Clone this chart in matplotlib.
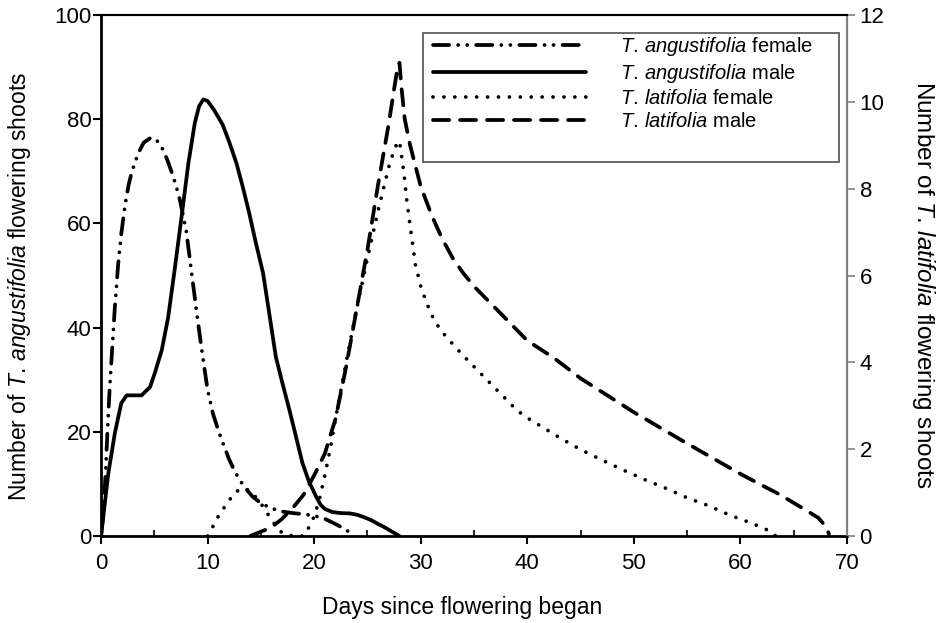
"""Flowering phenology of T. angustifolia and T. latifolia (two y axes)."""
import matplotlib
matplotlib.use("Agg")
import matplotlib.pyplot as plt
from matplotlib.patches import Rectangle
from matplotlib.ticker import MultipleLocator

plt.rcParams["font.family"] = ["Liberation Sans", "DejaVu Sans"]
plt.rcParams["mathtext.fontset"] = "custom"
plt.rcParams["mathtext.rm"] = "Liberation Sans"
plt.rcParams["mathtext.it"] = "Liberation Sans:italic"

# T. angustifolia (left axis)
ang_f_day = [0, 0.2, 0.4, 0.6, 0.8, 1.0, 1.3, 1.6, 1.9, 2.25, 2.6, 2.9, 3.5, 4.0, 4.7, 5.2,
             5.7, 6.2, 6.6, 7.0, 7.4, 8.0, 8.5, 9.0, 9.5, 10.0, 10.5, 11.0, 11.5, 12.0,
             12.5, 13.0, 13.5, 14.2, 15.0, 16.0, 17.0, 18.0, 19.0, 20.0, 21.0, 22.0, 23.0,
             23.7]
ang_f = [0, 4, 11, 20, 28, 34.5, 44, 52, 58, 63.5, 67.5, 70, 73.5, 75.5, 76.5, 76,
         74.6, 72.3, 70, 67.5, 64.5, 58.5, 50.5, 42.5, 35, 28, 23.5, 20.3, 17.5, 14.8,
         12.6, 10.8, 9.3, 7.6, 6.3, 5.3, 4.7, 4.4, 4.2, 3.9, 3.3, 2.3, 1.2,
         0]

ang_m_day = [0, 0.68, 1.3, 1.9, 2.4, 3.0, 3.8, 4.6, 5.05, 5.7, 6.3, 6.9, 7.55, 8.2, 8.8,
             9.2, 9.6, 10.0, 10.6, 11.4, 12.0, 12.7, 13.3, 13.9, 14.5, 15.2, 15.8, 16.4,
             17.0, 17.7, 18.3, 18.9, 19.5, 20.2, 20.6, 21.0, 21.7, 22.5, 23.3, 24.0, 24.7,
             25.4, 26.0, 26.5, 27.0, 27.5, 28.0]
ang_m = [0, 12, 19.8, 25.5, 27, 27, 27, 28.6, 31.3, 35.7, 42, 51, 61.2, 71.6, 79.3,
         82.5, 83.8, 83.5, 81.8, 79, 75.8, 71.6, 67, 62, 56.5, 50.5, 42.5, 34.4,
         29.5, 24, 19, 14, 10.5, 7.5, 6, 5.2, 4.6, 4.4, 4.35, 4.1, 3.6,
         3.0, 2.3, 1.8, 1.2, 0.6, 0]

# T. latifolia (right axis)
lat_f_day = [10.0, 10.5, 11.1, 11.8, 12.5, 13.2, 14.0, 15.0, 15.8, 16.5, 17.0, 18.0, 19.0,
             19.5, 20.0, 20.5, 21.0, 21.5, 22.0, 23.0, 24.0, 25.0, 26.0, 26.5, 27.0, 27.5,
             27.8, 28.0, 28.4, 28.7, 29.0, 29.5, 30.0, 30.5, 31.0, 31.5, 32.0, 33.0, 34.0,
             35.0, 36.0, 37.0, 38.0, 39.0, 40.0, 41.0, 43.0, 45.0, 47.0, 49.0, 51.0, 53.0,
             55.0, 57.0, 59.0, 61.0, 62.9, 63.3]
lat_f = [0, 0.22, 0.5, 0.74, 0.99, 1.1, 1.05, 0.75, 0.45, 0.2, 0.07, 0, 0,
         0.2, 0.45, 0.85, 1.4, 2.0, 2.7, 4.0, 5.25, 6.4, 7.5, 8.0, 8.5, 8.9,
         9.05, 9.1, 8.4, 7.7, 7.15, 6.25, 5.75, 5.4, 5.1, 4.88, 4.7, 4.42, 4.15,
         3.9, 3.65, 3.4, 3.15, 2.9, 2.72, 2.57, 2.27, 1.99, 1.75, 1.52, 1.3, 1.1,
         0.88, 0.7, 0.48, 0.3, 0.1, 0]

lat_m_day = [14.0, 15.0, 16.0, 17.0, 18.0, 19.0, 20.0, 21.0, 22.0, 23.0, 24.0, 25.0, 26.0,
             26.5, 27.0, 27.5, 27.8, 28.0, 28.2, 28.5, 29.0, 30.0, 31.0, 32.0, 33.0, 34.0,
             35.0, 36.0, 37.0, 38.0, 39.0, 40.0, 42.5, 45.0, 47.5, 50.0, 52.5, 55.0, 57.5,
             60.0, 62.0, 63.5, 65.7, 67.3, 68.0, 68.3]
lat_m = [0, 0.1, 0.2, 0.4, 0.65, 0.95, 1.4, 1.9, 2.7, 3.9, 5.25, 6.6, 8.1,
         8.8, 9.5, 10.3, 10.75, 10.9, 10.3, 9.6, 9.0, 8.05, 7.4, 6.85, 6.4, 6.05,
         5.75, 5.5, 5.25, 5.0, 4.75, 4.5, 4.1, 3.63, 3.24, 2.85, 2.49, 2.13, 1.78,
         1.43, 1.17, 0.98, 0.66, 0.42, 0.22, 0.05]

labels = [r"$\it{T.\,angustifolia}$ female", r"$\it{T.\,angustifolia}$ male",
          r"$\it{T.\,latifolia}$ female", r"$\it{T.\,latifolia}$ male"]

LW = 2.7
dashdotdot = (0, (4.3, 2.4, 0.01, 2.4, 0.01, 2.4))
dotted = (0, (0.01, 2.9))
dashed = (0, (4.3, 2.9))
style = dict(color="black", lw=LW, dash_capstyle="round", solid_capstyle="round",
             solid_joinstyle="round", dash_joinstyle="round")

fig = plt.figure(figsize=(9.39, 6.23), dpi=100)
ax = fig.add_axes([0.1076, 0.1396, 0.7945, 0.8363])
ax2 = ax.twinx()

h1, = ax.plot(ang_f_day, ang_f, ls=dashdotdot, **style)
h2, = ax.plot(ang_m_day, ang_m, ls="-", **style)
h3, = ax2.plot(lat_f_day, lat_f, ls=dotted, **style)
h4, = ax2.plot(lat_m_day, lat_m, ls=dashed, **style)

ax.set_xlim(0, 70)
ax.set_ylim(0, 100)
ax2.set_ylim(0, 12)
ax.xaxis.set_major_locator(MultipleLocator(10))
ax.xaxis.set_minor_locator(MultipleLocator(5))
ax.yaxis.set_major_locator(MultipleLocator(20))
ax2.yaxis.set_major_locator(MultipleLocator(2))

ax.tick_params(axis="x", which="major", direction="out", length=6, width=1.5, labelsize=16, pad=6)
ax.tick_params(axis="x", which="minor", direction="in", length=4, width=1.2)
ax.tick_params(axis="y", direction="out", length=6, width=1.5, labelsize=16, pad=1)
ax2.tick_params(axis="y", direction="out", length=6, width=1.2, color="#808080", labelsize=16, pad=3)

for side in ("left", "bottom"):
    ax.spines[side].set_linewidth(2)
ax.spines["top"].set_linewidth(1.5)
ax2.spines["top"].set_linewidth(1.5)
ax2.spines["right"].set_color("#808080")
ax2.spines["right"].set_linewidth(1.5)

ax.set_xlabel("Days since flowering began", fontsize=16.5)
ax.xaxis.set_label_coords(0.484, -0.115)
ax.set_ylabel(r"Number of $\it{T.\,angustifolia}$ flowering shoots", fontsize=16.5)
ax.yaxis.set_label_coords(-0.0915, 0.478)
ax2.set_ylabel(r"Number of $\it{T.\,latifolia}$ flowering shoots", fontsize=17.5, rotation=270)
ax2.yaxis.set_label_coords(1.121, 0.482)

# legend box drawn separately: Excel leaves extra room below the last entry
ax2.add_patch(Rectangle((0.4316, 0.7184), 0.5577, 0.2476, transform=ax2.transAxes,
                        facecolor="white", edgecolor="#505050", lw=1.2, zorder=4))
leg = ax2.legend([h1, h2, h3, h4], labels, loc="upper left", bbox_to_anchor=(0.445, 0.962),
                 fontsize=14.5, handlelength=7.6, handletextpad=1.7, labelspacing=0.2,
                 borderpad=0, frameon=False, borderaxespad=0)
leg.set_zorder(5)

fig.savefig("out.png", dpi=100)
